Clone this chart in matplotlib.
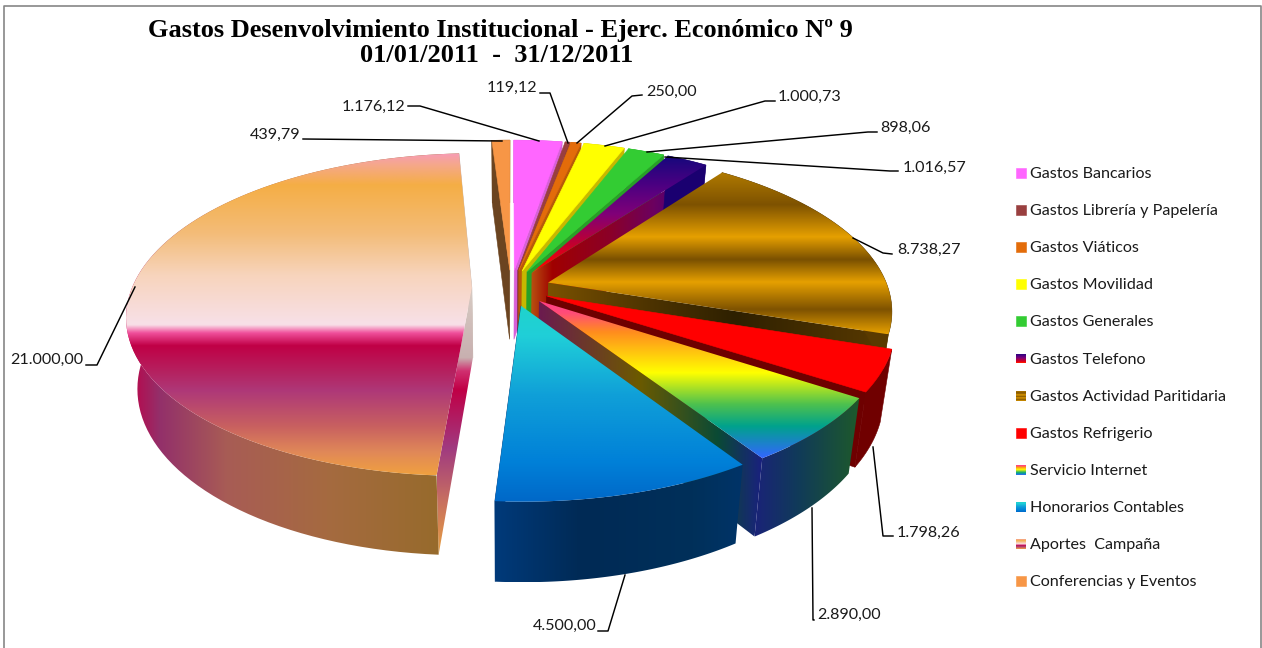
#!/usr/bin/env python3

#==============================================================================
# gastos desenvolvimiento institucional - exploded 3d pie
#==============================================================================

import numpy as np
import matplotlib
matplotlib.use('Agg')
import matplotlib.pyplot as plt
from matplotlib.colors import LinearSegmentedColormap
from matplotlib.patches import Polygon

#==============================================================================
# data
#==============================================================================

Categories = ['Gastos Bancarios', 'Gastos Librería y Papelería', 'Gastos Viáticos',
              'Gastos Movilidad', 'Gastos Generales', 'Gastos Telefono',
              'Gastos Actividad Paritidaria', 'Gastos Refrigerio', 'Servicio Internet',
              'Honorarios Contables', 'Aportes  Campaña', 'Conferencias y Eventos']
Values = [1176.12, 119.12, 250.00, 1000.73, 898.06, 1016.57,
          8738.27, 1798.26, 2890.00, 4500.00, 21000.00, 439.79]

#==============================================================================
# colours: (position, colour) stops, or one plain colour, or None for no wall
#==============================================================================

TelefonoTop = [(0, '#14087c'), (.25, '#4b0082'), (.5, '#800078'), (.75, '#c00030'), (.95, '#ff0000'), (1, '#ff5000')]
GoldTop = [(0, '#b07a00'), (.2, '#7e5200'), (.4, '#e6a000'), (.54, '#7a5000'),
           (.68, '#e6a000'), (.85, '#7e5200'), (1, '#e6a000')]
InternetTop = [(0, '#ff3c8c'), (.08, '#ff4c78'), (.2, '#ff8c1e'), (.46, '#ffff00'), (.66, '#4ec14e'),
               (.8, '#00a28c'), (1, '#3366ff')]
HonorariosTop = [(0, '#1fd3cc'), (.15, '#20cfd8'), (.45, '#10a0d8'), (.8, '#0080d8'), (1, '#0068c8')]
AportesTop = [(0, '#f79cb8'), (.04, '#f5a888'), (.1, '#f5ae45'), (.25, '#f3bc78'), (.38, '#f7d4bc'),
              (.535, '#f8e0e8'), (.56, '#f0509c'), (.6, '#c00046'), (.68, '#b5215f'), (.74, '#ae3878'),
              (.85, '#c86060'), (.93, '#e08858'), (1, '#f0a040')]

TopFill = ['#ff66ff', '#993f3f', '#e36c0a', '#ffff00', '#33cc33', TelefonoTop,
           GoldTop, '#ff0000', InternetTop, HonorariosTop, AportesTop, '#f79646']
EndWall = ['#d860d8', '#7a3030', '#b85a08', '#c8b800', '#28a028',
           [(0, '#b85010'), (.12, '#a00000'), (.45, '#8b0028'), (.7, '#6b0060'), (.9, '#3a0080'), (1, '#1a0070')],
           [(0, '#7a5200'), (.3, '#4d3300'), (.55, '#2e2000'), (1, '#5a3a00')],
           '#6e0000',
           [(0, '#6b1a50'), (.45, '#6b5a00'), (.8, '#0a4a35'), (1, '#1a2080')],
           '#003a7a', '#c8b8b0', None]
StartWall = [None, None, None, None, None, None, None, None, None, None,
             [(0, '#d8ccc4'), (.26, '#c8b0b0'), (.31, '#d03070'), (.38, '#c00046'),
              (.6, '#a03a80'), (.8, '#c87060'), (1, '#e8a040')],
             '#6b4420']
OuterSide = ['#d860d8', '#7a3030', '#b85a08', '#c8b800', '#28a028', '#1a0070', '#5a3a00', '#700000',
             [(0, '#1a2378'), (.4, '#103a5a'), (1, '#1e5a2a')],
             [(0, '#003a7a'), (.35, '#002a55'), (.8, '#00305a'), (1, '#003468')],
             [(0, '#c00046'), (.1, '#93306a'), (.3, '#a85c55'), (.6, '#a56a40'), (1, '#946b28')],
             '#6b4420']

#==============================================================================
# layout, all in pixels of the 1262x648 picture
#==============================================================================

PieCx, PieCy = 511, 288
RadA, RadB = 340, 157
Persp = 0.165
Explode = 0.115

LabelX = [342, 487, 646, 778, 880, 903, 897, 897, 817, 533, 10, 250]
LabelY = [107, 88, 92, 97, 128, 168, 250, 533, 615, 626, 360, 135]
Leaders = [[(408, 106), (420, 106), (539, 141)],
           [(540, 93), (550, 93), (568, 143)],
           [(642, 95), (632, 96), (577, 143)],
           [(775, 101), (765, 101), (605, 146)],
           [(877, 132), (868, 132), (647, 152)],
           [(898, 171), (890, 171), (665, 157)],
           [(892, 254), (883, 253), (853, 238)],
           [(893, 536), (883, 536), (873, 447)],
           [(814, 620), (813, 620), (812, 508)],
           [(598, 631), (608, 631), (625, 575)],
           [(86, 365), (97, 365), (135, 287)],
           [(303, 139), (502, 141)]]

TextFont = 'Lato'
TextSize = 11.6

#==============================================================================
# helpers
#==============================================================================

def Project(X, Y, Low=False):
  P = 1 / (1 + Persp * Y)
  Px = PieCx + RadA * X * P
  Py = PieCy - RadB * Y * P
  if Low:
    Px = 505 + (Px - 505) * 0.97
    Py = Py + 70 + 0.05 * (Py - 290)
  return np.column_stack([Px, Py])

def Fill(Axis, Poly, Colour, Z, Horizontal=False):
  if Colour is None:
    return
  if isinstance(Colour, str):
    Axis.add_patch(Polygon(Poly, closed=True, facecolor=Colour, edgecolor=Colour, linewidth=0.4, zorder=Z))
    return
  Cmap = LinearSegmentedColormap.from_list('stops', Colour)
  Ramp = np.linspace(0, 1, 256)
  Ramp = Ramp.reshape(1, -1) if Horizontal else Ramp.reshape(-1, 1)
  Xmin, Ymin = Poly.min(axis=0)
  Xmax, Ymax = Poly.max(axis=0)
  Image = Axis.imshow(Ramp, cmap=Cmap, extent=(Xmin, Xmax, Ymax, Ymin), aspect='auto',
                      interpolation='bilinear', zorder=Z, vmin=0, vmax=1)
  Image.set_clip_path(Polygon(Poly, closed=True, transform=Axis.transData))

def Number(Value):
  return ('%s' % format(Value, ',.2f')).replace(',', 'x').replace('.', ',').replace('x', '.')

#==============================================================================
# figure
#==============================================================================

fig = plt.figure(figsize=(12.62, 6.48), dpi=100)
ax = fig.add_axes([0, 0, 1, 1])
ax.set_axis_off()

# frame of the chart area, open at the bottom
ax.plot([4, 4, 1260.5, 1260.5], [648, 6, 6, 648], color='#868686', linewidth=1.2, zorder=1)

Total = sum(Values)
Sweep = [V / Total * 360 for V in Values]
Starts = np.concatenate([[0], np.cumsum(Sweep)[:-1]])

Z = 10
for I in [11, 0, 1, 2, 3, 4, 5, 6, 7, 8, 9, 10]:
  A0, A1 = Starts[I], Starts[I] + Sweep[I]
  Mid = np.radians((A0 + A1) / 2)
  Ax0, Ay0 = Explode * np.sin(Mid), Explode * np.cos(Mid)
  T = np.radians(np.linspace(A0, A1, 90))
  Ox, Oy = Ax0 + np.sin(T), Ay0 + np.cos(T)
  ApexTop = Project(np.array([Ax0]), np.array([Ay0]))
  ApexLow = Project(np.array([Ax0]), np.array([Ay0]), True)
  ArcTop = Project(Ox, Oy)
  ArcLow = Project(Ox, Oy, True)

  StartPoly = np.vstack([ApexTop, ArcTop[0], ArcLow[0], ApexLow])
  EndPoly = np.vstack([ApexTop, ArcTop[-1], ArcLow[-1], ApexLow])
  OuterPoly = np.vstack([ArcTop, ArcLow[::-1]])
  TopPoly = np.vstack([ApexTop, ArcTop])

  Fill(ax, EndPoly, EndWall[I], Z, True); Z += 1
  Fill(ax, StartPoly, StartWall[I], Z); Z += 1
  Fill(ax, OuterPoly, OuterSide[I], Z, True); Z += 1
  Fill(ax, TopPoly, TopFill[I], Z); Z += 1

#==============================================================================
# value labels and leaders
#==============================================================================

for I, Value in enumerate(Values):
  ax.text(LabelX[I], LabelY[I], Number(Value), family=TextFont, fontsize=TextSize,
          color='#1a1a1a', ha='left', va='center', zorder=200)
  Xs = [P[0] for P in Leaders[I]]
  Ys = [P[1] for P in Leaders[I]]
  ax.plot(Xs, Ys, color='black', linewidth=1.05, zorder=150)

#==============================================================================
# legend
#==============================================================================

for I, Name in enumerate(Categories):
  Y = 173 + 37.1 * I
  Box = np.array([[1016, Y - 5], [1026, Y - 5], [1026, Y + 5], [1016, Y + 5]])
  Fill(ax, Box, TopFill[I], 160)
  ax.text(1030, Y + 1, Name, family=TextFont, fontsize=TextSize, color='#1a1a1a',
          ha='left', va='center', zorder=200)

#==============================================================================
# title
#==============================================================================

ax.text(500, 30, 'Gastos Desenvolvimiento Institucional - Ejerc. Económico Nº 9',
        family='Liberation Serif', fontweight='bold', fontsize=19, ha='center', va='center', color='black')
ax.text(497, 55, '01/01/2011  -  31/12/2011',
        family='Liberation Serif', fontweight='bold', fontsize=19, ha='center', va='center', color='black')

ax.set_xlim(0, 1262)
ax.set_ylim(648, 0)

fig.savefig('out.png', dpi=100, facecolor='white')
